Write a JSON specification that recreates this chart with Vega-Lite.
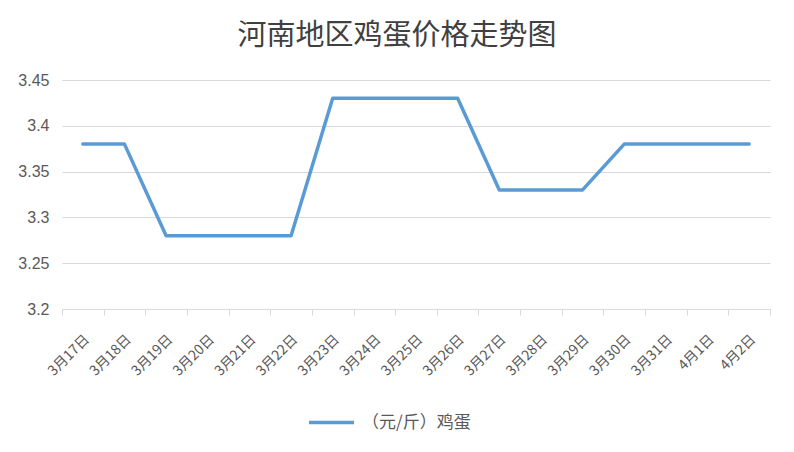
{
  "$schema": "https://vega.github.io/schema/vega-lite/v6.json",
  "autosize": {"type": "none"},
  "width": 708,
  "height": 229,
  "padding": {"left": 62, "top": 80, "right": 24, "bottom": 143},
  "background": "white",
  "title": {
    "text": "河南地区鸡蛋价格走势图",
    "font": "Noto Sans CJK SC",
    "fontSize": 29,
    "fontWeight": "normal",
    "color": "#404040",
    "anchor": "middle",
    "dx": -19,
    "offset": 21
  },
  "data": {
    "values": [
      {"date": "3月17日", "price": 3.38, "series": "（元/斤）鸡蛋"},
      {"date": "3月18日", "price": 3.38, "series": "（元/斤）鸡蛋"},
      {"date": "3月19日", "price": 3.28, "series": "（元/斤）鸡蛋"},
      {"date": "3月20日", "price": 3.28, "series": "（元/斤）鸡蛋"},
      {"date": "3月21日", "price": 3.28, "series": "（元/斤）鸡蛋"},
      {"date": "3月22日", "price": 3.28, "series": "（元/斤）鸡蛋"},
      {"date": "3月23日", "price": 3.43, "series": "（元/斤）鸡蛋"},
      {"date": "3月24日", "price": 3.43, "series": "（元/斤）鸡蛋"},
      {"date": "3月25日", "price": 3.43, "series": "（元/斤）鸡蛋"},
      {"date": "3月26日", "price": 3.43, "series": "（元/斤）鸡蛋"},
      {"date": "3月27日", "price": 3.33, "series": "（元/斤）鸡蛋"},
      {"date": "3月28日", "price": 3.33, "series": "（元/斤）鸡蛋"},
      {"date": "3月29日", "price": 3.33, "series": "（元/斤）鸡蛋"},
      {"date": "3月30日", "price": 3.38, "series": "（元/斤）鸡蛋"},
      {"date": "3月31日", "price": 3.38, "series": "（元/斤）鸡蛋"},
      {"date": "4月1日", "price": 3.38, "series": "（元/斤）鸡蛋"},
      {"date": "4月2日", "price": 3.38, "series": "（元/斤）鸡蛋"}
    ]
  },
  "mark": {"type": "line", "strokeWidth": 3.5, "strokeCap": "round", "strokeJoin": "round"},
  "encoding": {
    "x": {
      "field": "date",
      "type": "nominal",
      "sort": null,
      "scale": {"type": "band", "paddingInner": 0, "paddingOuter": 0},
      "axis": {
        "title": null,
        "labelAngle": -45,
        "labelAlign": "right",
        "labelBaseline": "middle",
        "labelFont": "Noto Sans CJK SC",
        "labelFontSize": 14,
        "labelColor": "#595959",
        "domainColor": "#d9d9d9",
        "tickColor": "#d9d9d9",
        "tickSize": 6,
        "tickBand": "extent",
        "labelPadding": 22,
        "labelOffset": 4,
        "grid": false
      }
    },
    "y": {
      "field": "price",
      "type": "quantitative",
      "scale": {"domain": [3.2, 3.45], "zero": false, "nice": false},
      "axis": {
        "title": null,
        "values": [3.2, 3.25, 3.3, 3.35, 3.4, 3.45],
        "format": "~g",
        "labelFont": "Liberation Sans",
        "labelFontSize": 16,
        "labelColor": "#595959",
        "labelPadding": 13,
        "ticks": false,
        "domain": false,
        "gridColor": "#d9d9d9",
        "gridWidth": 1
      }
    },
    "color": {
      "field": "series",
      "type": "nominal",
      "scale": {"range": ["#5B9BD5"]},
      "legend": {
        "title": null,
        "orient": "none",
        "legendX": 245,
        "legendY": 318,
        "symbolType": "stroke",
        "symbolStrokeWidth": 3.5,
        "symbolSize": 2025,
        "labelFont": "Noto Sans CJK SC",
        "labelFontSize": 17,
        "labelColor": "#595959",
        "labelOffset": 6
      }
    }
  },
  "config": {"view": {"stroke": null}}
}
